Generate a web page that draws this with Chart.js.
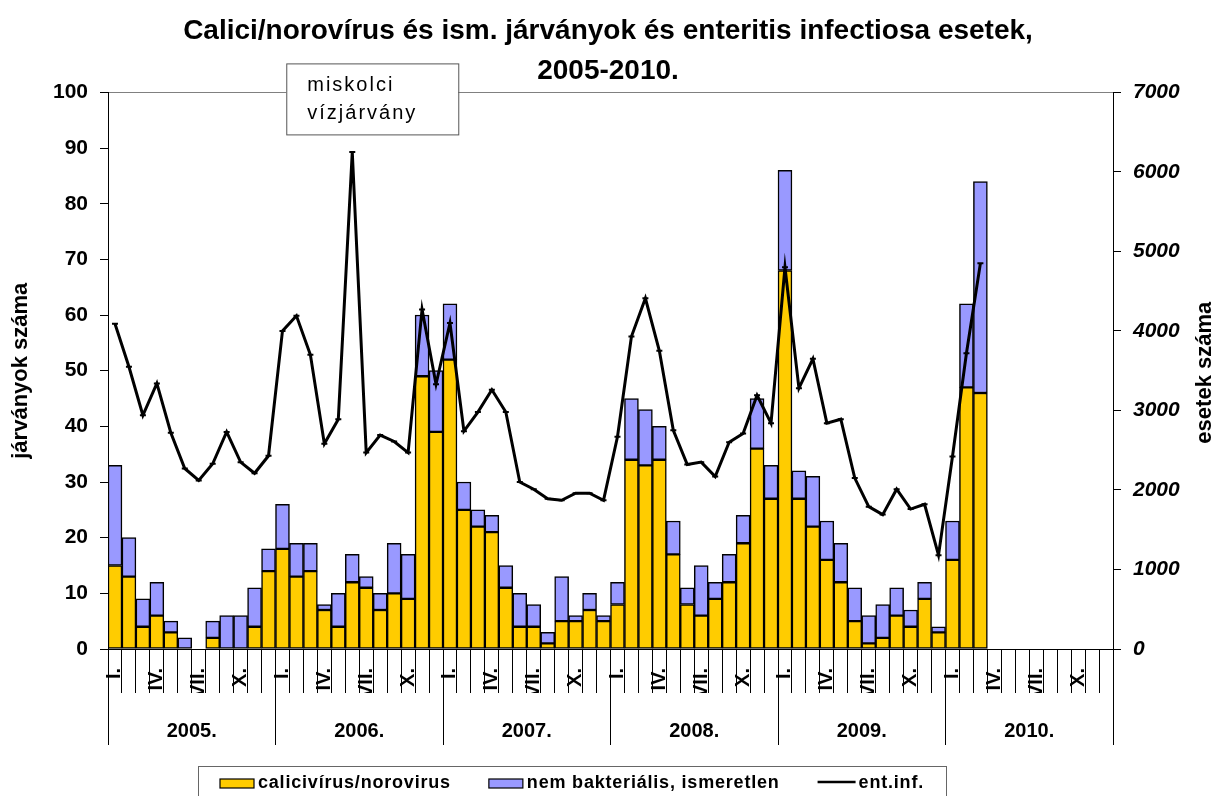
<!DOCTYPE html>
<html lang="hu">
<head>
<meta charset="UTF-8">
<title>Calici/norovírus járványok, 2005-2010</title>
<script src="https://cdn.jsdelivr.net/npm/chart.js"></script>
<style>
  html, body { margin: 0; padding: 0; background: #fff; }
  canvas { display: block; }
</style>
</head>
<body>
<canvas id="chart" width="1216" height="796"></canvas>
<script>
  const years = ['2005.', '2006.', '2007.', '2008.', '2009.', '2010.'];
  const months = ['I.', 'II.', 'III.', 'IV.', 'V.', 'VI.', 'VII.', 'VIII.', 'IX.', 'X.', 'XI.', 'XII.'];

  // járványok száma havonta, 2005 I. - 2010 III.
  const calici = [
    15, 13, 4, 6, 3, 0, 0, 2, 0, 0, 4, 14,
    18, 13, 14, 7, 4, 12, 11, 7, 10, 9, 49, 39,
    52, 25, 22, 21, 11, 4, 4, 1, 5, 5, 7, 5,
    8, 34, 33, 34, 17, 8, 6, 9, 12, 19, 36, 27,
    68, 27, 22, 16, 12, 5, 1, 2, 6, 4, 9, 3,
    16, 47, 46
  ];
  const nemBakt = [
    18, 7, 5, 6, 2, 2, 0, 3, 6, 6, 7, 4,
    8, 6, 5, 1, 6, 5, 2, 3, 9, 8, 11, 11,
    10, 5, 3, 3, 4, 6, 4, 2, 8, 1, 3, 1,
    4, 11, 10, 6, 6, 3, 9, 3, 5, 5, 9, 6,
    18, 5, 9, 7, 7, 6, 5, 6, 5, 3, 3, 1,
    7, 15, 38
  ];
  // enteritis infectiosa esetek (jobb tengely)
  const entInf = [
    4090, 3550, 2940, 3340, 2720, 2270, 2120, 2330, 2730, 2350, 2210, 2430,
    4000, 4190, 3700, 2580, 2890, 6250, 2470, 2690, 2610, 2470, 4270, 3330,
    4100, 2740, 2980, 3260, 2980, 2100, 2010, 1890, 1870, 1960, 1960, 1870,
    2670, 3930, 4410, 3750, 2750, 2320, 2350, 2170, 2600, 2710, 3190, 2840,
    4800, 3280, 3650, 2840, 2890, 2150, 1790, 1690, 2010, 1760, 1820, 1180,
    2420, 3720, 4850
  ];

  const labels = years.flatMap(() => months);
  const FONT = "'Liberation Sans', Arial, sans-serif";

  Chart.defaults.font.family = FONT;
  Chart.defaults.color = '#000';

  // right axis title, annotation box and framed legend
  const extras = {
    id: 'extras',
    afterDraw(chart) {
      const ctx = chart.ctx;
      const area = chart.chartArea;

      ctx.save();
      ctx.font = 'bold 22px ' + FONT;
      ctx.fillStyle = '#000';
      ctx.translate(chart.scales.y1.right - 11, (area.top + area.bottom) / 2 + 2);
      ctx.rotate(-Math.PI / 2);
      ctx.textAlign = 'center';
      ctx.textBaseline = 'middle';
      ctx.fillText('esetek száma', 0, 0);
      ctx.restore();

      // "miskolci vízjárvány" box above the July 2006 peak
      const bx = chart.scales.x.getPixelForValue(17) - 66;
      const by = area.top - 29;
      ctx.save();
      ctx.fillStyle = '#fff';
      ctx.fillRect(bx, by, 172, 71);
      ctx.strokeStyle = '#555';
      ctx.lineWidth = 1;
      ctx.strokeRect(bx + 0.5, by + 0.5, 172, 71);
      ctx.fillStyle = '#000';
      ctx.font = '20px ' + FONT;
      ctx.letterSpacing = '2px';
      ctx.fillText('miskolci', bx + 21, by + 28);
      ctx.fillText('vízjárvány', bx + 21, by + 56);
      ctx.restore();

      // legend
      ctx.save();
      ctx.strokeStyle = '#666';
      ctx.lineWidth = 1;
      ctx.strokeRect(198.5, 766.5, 748, 60);
      ctx.font = 'bold 18px ' + FONT;
      ctx.letterSpacing = '0.8px';
      let x = 220;
      const y = 783;
      chart.data.datasets.forEach(ds => {
        if (ds.type === 'line') {
          ctx.strokeStyle = ds.borderColor;
          ctx.lineWidth = 2.5;
          ctx.beginPath();
          ctx.moveTo(x, y - 1);
          ctx.lineTo(x + 38, y - 1);
          ctx.stroke();
          x += 41;
        } else {
          ctx.fillStyle = ds.backgroundColor;
          ctx.fillRect(x, y - 4, 34, 9);
          ctx.strokeStyle = '#000';
          ctx.lineWidth = 1.2;
          ctx.strokeRect(x, y - 4, 34, 9);
          x += 38;
        }
        ctx.fillStyle = '#000';
        ctx.fillText(ds.label, x, 788);
        x += ctx.measureText(ds.label).width + 38;
      });
      ctx.restore();
    }
  };

  const barStyle = {
    borderColor: '#000',
    borderWidth: 1.5,
    borderSkipped: false,
    barPercentage: 1,
    categoryPercentage: 1,
    stack: 'jarvany',
    yAxisID: 'y',
    order: 2
  };

  new Chart(document.getElementById('chart'), {
    type: 'bar',
    data: {
      labels: labels,
      datasets: [
        Object.assign({ label: 'calicivírus/norovirus', data: calici, backgroundColor: '#FFCC00' }, barStyle),
        Object.assign({ label: 'nem bakteriális, ismeretlen', data: nemBakt, backgroundColor: '#9999FF' }, barStyle),
        {
          type: 'line',
          label: 'ent.inf.',
          data: entInf,
          yAxisID: 'y1',
          borderColor: '#000',
          backgroundColor: '#000',
          borderWidth: 3,
          pointStyle: 'line',
          pointRadius: 3,
          pointBorderWidth: 2,
          tension: 0,
          fill: false,
          order: 0
        }
      ]
    },
    options: {
      responsive: false,
      animation: false,
      layout: { padding: { bottom: 51 } },
      plugins: {
        legend: { display: false },
        tooltip: { enabled: false },
        title: {
          display: true,
          text: ['Calici/norovírus és ism. járványok és enteritis infectiosa esetek,', '2005-2010.'],
          font: { size: 28, weight: 'bold', lineHeight: 1.4 },
          padding: { top: 12, bottom: 2 },
          color: '#000'
        }
      },
      scales: {
        x: {
          stacked: true,
          offset: true,
          grid: { offset: true, drawOnChartArea: false, tickLength: 44, color: '#000' },
          border: { color: '#000' },
          ticks: {
            autoSkip: false,
            minRotation: 90,
            maxRotation: 90,
            padding: -25,
            font: { size: 20, weight: 'bold' },
            callback: (v, i) => (i % 3 === 0 ? months[i % 12] : '')
          },
          afterFit: s => { s.height = 44; }
        },
        x2: {
          type: 'category',
          labels: years,
          position: 'bottom',
          offset: true,
          grid: { offset: true, drawOnChartArea: false, tickLength: 52, color: '#000' },
          border: { display: false },
          ticks: { padding: -26, maxRotation: 0, font: { size: 20, weight: 'bold' } },
          afterFit: s => { s.height = 52; }
        },
        y: {
          stacked: true,
          min: 0,
          max: 100,
          ticks: { stepSize: 10, padding: 12, font: { size: 21, weight: 'bold' } },
          grid: {
            tickLength: 8,
            tickColor: '#000',
            color: c => (c.tick && c.tick.value === 100 ? '#808080' : 'transparent')
          },
          border: { color: '#000' },
          title: { display: true, text: 'járványok száma', font: { size: 22, weight: 'bold' }, padding: { top: 8 } },
          afterFit: s => { s.width = 108; }
        },
        y1: {
          position: 'right',
          min: 0,
          max: 7000,
          ticks: {
            stepSize: 1000,
            padding: 12,
            font: { size: 21, weight: 'bold', style: 'italic' },
            callback: v => String(v)
          },
          grid: { drawOnChartArea: false, tickLength: 8, color: '#000' },
          border: { color: '#000' },
          afterFit: s => { s.width = 103; }
        }
      }
    },
    plugins: [extras]
  });
</script>
</body>
</html>
